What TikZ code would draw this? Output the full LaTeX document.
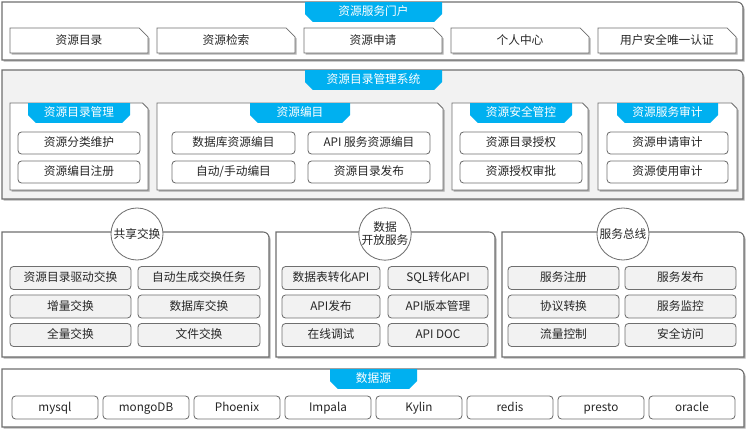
\documentclass[tikz,border=0pt]{standalone}
\usepackage{fontspec}
\setmainfont{Noto Sans CJK SC}
\usetikzlibrary{shapes.misc, shadows, fit}
\definecolor{ink}{HTML}{262626}
\definecolor{edge}{HTML}{6F6F6F}
\definecolor{tab}{HTML}{00B0F0}
\definecolor{pale}{HTML}{F2F2F2}
\tikzset{
  every node/.style = {font=\fontsize{10}{12}\selectfont, text=ink},
  wd/.style      = {minimum width=#1*0.03cm},
  ht/.style      = {minimum height=#1*0.03cm},
  line/.style    = {text height=8pt, text depth=1.5pt},
  shd/.style     = {drop shadow={shadow xshift=1.3pt, shadow yshift=-1.3pt, fill=black, opacity=.3}},
  pnl/.style     = {inner sep=0pt, outer sep=0pt},
  pnlline/.style = {draw=edge, line width=0.9pt, shd},
  pftab/.style   = {chamfered rectangle, chamfered rectangle corners={south west,south east},
                    chamfered rectangle xsep=3pt, fill=tab, text=white, inner sep=0pt, ht=18, line},
  pfdoc/.style   = {chamfered rectangle, chamfered rectangle corners=north east,
                    chamfered rectangle xsep=#1, draw=edge, line width=0.7pt, fill=white,
                    inner sep=0pt, shd, line},
  pfitem/.style  = {draw=edge, line width=0.7pt, rounded corners=3pt, fill=white, inner sep=0pt,
                    ht=22, line},
  pfgray/.style  = {pfitem, fill=pale, ht=23},
  pfball/.style  = {circle, draw=edge, line width=0.7pt, fill=white, inner sep=0pt,
                    minimum size=52*0.03cm, align=center, font=\fontsize{10}{11}\selectfont},
}

\begin{document}
\begin{tikzpicture}[x=0.03cm, y=-0.03cm]
\useasboundingbox (0,0) rectangle (750,433);

% panels
\node[pnl, fit={(2,2) (743,60)}]     (portal) {};
\node[pnl, fit={(2,70) (743,199)}]   (mgmt)   {};
\node[pnl, fit={(2,232) (269,357)}]  (share)  {};
\node[pnl, fit={(276,232) (495,357)}] (open)  {};
\node[pnl, fit={(502,232) (744,357)}] (bus)   {};
\node[pnl, fit={(2,369) (744,427)}]  (src)    {};
\foreach \p/\f in {portal/white, mgmt/pale, share/white, open/white, bus/white, src/white}
  \draw[pnlline, fill=\f] (\p.south east) -- (\p.south west) -- (\p.north west)
    -- ([xshift=-5pt]\p.north east) arc[start angle=90, end angle=0, radius=5pt] -- cycle;

% portal
\node[pftab, wd=137, anchor=north] (portalT) at (373.5,2) {资源服务门户};
\foreach \t [count=\i from 0] in {资源目录,资源检索,资源申请,个人中心,用户安全唯一认证}
  \node[pfdoc=4pt, wd=138, ht=25] (portal\i) at (79+147*\i,40.5) {\t};

% catalogue management
\node[pftab, wd=137, anchor=north] (mgmtT) at (373.5,70) {资源目录管理系统};
\node[pfdoc=6pt, wd=138, ht=87] (catMgr)  at (79,146.5)  {};
\node[pfdoc=6pt, wd=286, ht=87] (catEdit) at (300,146.5) {};
\node[pfdoc=6pt, wd=136, ht=87] (secCtl)  at (520,146.5) {};
\node[pfdoc=6pt, wd=139, ht=87] (audit)   at (667.5,146.5) {};
\node[pftab, wd=102, anchor=north] (catMgrT)  at (79,103)    {资源目录管理};
\node[pftab, wd=100, anchor=north] (catEditT) at (300,103)   {资源编目};
\node[pftab, wd=102, anchor=north] (secCtlT)  at (521,103)   {资源安全管控};
\node[pftab, wd=101, anchor=north] (auditT)   at (667.5,103) {资源服务审计};
\node[pfitem, wd=122] (catMgr1)  at (79,143)    {资源分类维护};
\node[pfitem, wd=122] (catMgr2)  at (79,172)    {资源编目注册};
\node[pfitem, wd=123] (catEdit1) at (233.5,143) {数据库资源编目};
\node[pfitem, wd=123] (catEdit2) at (233.5,172) {自动/手动编目};
\node[pfitem, wd=122] (catEdit3) at (369,143)   {API 服务资源编目};
\node[pfitem, wd=122] (catEdit4) at (369,172)   {资源目录发布};
\node[pfitem, wd=122] (secCtl1)  at (521,143)   {资源目录授权};
\node[pfitem, wd=122] (secCtl2)  at (521,172)   {资源授权审批};
\node[pfitem, wd=121] (audit1)   at (667.5,143) {资源申请审计};
\node[pfitem, wd=121] (audit2)   at (667.5,172) {资源使用审计};

% exchange, open service, service bus
\node[pfball] (shareB) at (137,234) {共享交换};
\node[pfball] (openB)  at (385,234) {数据\\开放服务};
\node[pfball] (busB)   at (623,234) {服务总线};
\foreach \a/\b [count=\r from 0] in {资源目录驱动交换/自动生成交换任务, 增量交换/数据库交换, 全量交换/文件交换}{
  \node[pfgray, wd=121] (shareL\r) at (70.5,278+28.5*\r) {\a};
  \node[pfgray, wd=122] (shareR\r) at (199,278+28.5*\r)  {\b};
}
\foreach \a/\b [count=\r from 0] in {数据表转化API/SQL转化API, API发布/API版本管理, 在线调试/API DOC}{
  \node[pfgray, wd=98]  (openL\r) at (331,278+28.5*\r) {\a};
  \node[pfgray, wd=100] (openR\r) at (438,278+28.5*\r) {\b};
}
\foreach \a/\b [count=\r from 0] in {服务注册/服务发布, 协议转换/服务监控, 流量控制/安全访问}{
  \node[pfgray, wd=111] (busL\r) at (563.5,278+28.5*\r) {\a};
  \node[pfgray, wd=111] (busR\r) at (680.5,278+28.5*\r) {\b};
}

% data sources
\node[pftab, wd=87, anchor=north] (srcT) at (373.5,369) {数据源};
\foreach \t [count=\i from 0] in {mysql,mongoDB,Phoenix,Impala,Kylin,redis,presto,oracle}
  \node[pfitem, wd=86, ht=23] (src\i) at (55+91*\i,407.5) {\t};
\end{tikzpicture}
\end{document}
